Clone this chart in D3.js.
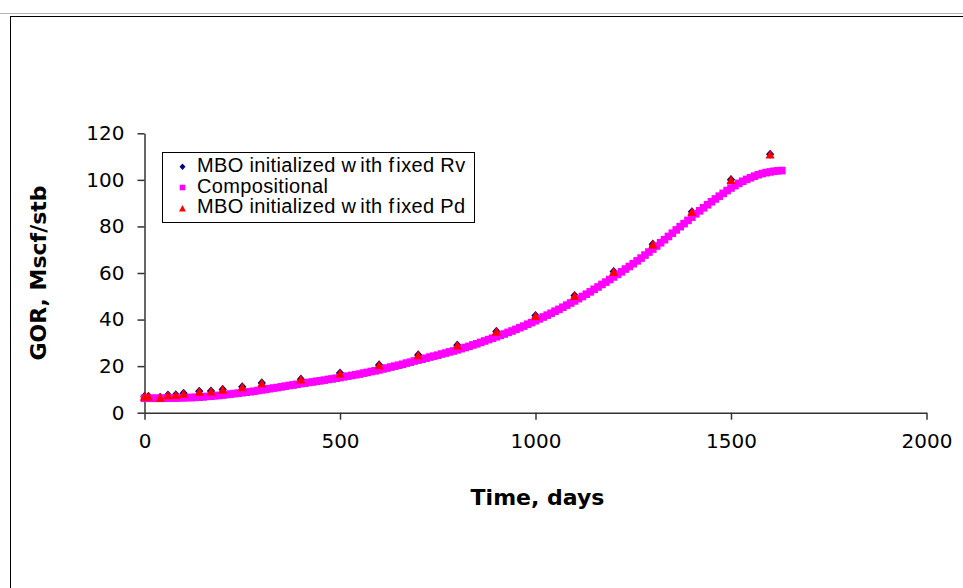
<!DOCTYPE html>
<html>
<head>
<meta charset="utf-8">
<script src="https://cdn.jsdelivr.net/npm/d3@7"></script>
<style>
  html, body { margin: 0; padding: 0; background: #fff; }
  svg { display: block; }
</style>
</head>
<body>
<svg id="chart" width="963" height="588"></svg>
<script>
// GOR history: two black-oil (MBO) runs against the compositional run
const seriesNames = [
  "MBO initialized with fixed Rv",
  "Compositional",
  "MBO initialized with fixed Pd"
];

const rvDays = [0, 10, 40, 60, 80, 100, 140, 170, 200, 250, 300, 400, 500, 600,
                700, 800, 900, 1000, 1100, 1200, 1300, 1400, 1500, 1600];
const rvGor  = [7.0, 7.0, 6.6, 7.6, 7.7, 8.3, 9.2, 9.3, 10.0, 11.1, 12.8, 14.4, 17.0, 20.5,
                24.8, 29.0, 34.9, 41.7, 50.3, 60.6, 72.4, 86.3, 100.1, 111.0];

const pdDays = [0, 10, 40, 60, 80, 100, 140, 170, 200, 250, 300, 400, 500, 600,
                700, 800, 900, 1000, 1100, 1200, 1300, 1400, 1500, 1600];
const pdGor  = [7.0, 7.0, 6.6, 7.6, 7.7, 8.3, 9.2, 9.3, 10.0, 11.1, 12.8, 14.4, 17.0, 20.5,
                24.8, 29.0, 34.9, 41.7, 50.3, 60.6, 72.4, 86.3, 100.1, 111.0];

const compDays = [
  0, 10, 20, 30, 40, 50, 60, 70, 80, 90,
  100, 110, 120, 130, 140, 150, 160, 170, 180, 190,
  200, 210, 220, 230, 240, 250, 260, 270, 280, 290,
  300, 310, 320, 330, 340, 350, 360, 370, 380, 390,
  400, 410, 420, 430, 440, 450, 460, 470, 480, 490,
  500, 510, 520, 530, 540, 550, 560, 570, 580, 590,
  600, 610, 620, 630, 640, 650, 660, 670, 680, 690,
  700, 710, 720, 730, 740, 750, 760, 770, 780, 790,
  800, 810, 820, 830, 840, 850, 860, 870, 880, 890,
  900, 910, 920, 930, 940, 950, 960, 970, 980, 990,
  1000, 1010, 1020, 1030, 1040, 1050, 1060, 1070, 1080, 1090,
  1100, 1110, 1120, 1130, 1140, 1150, 1160, 1170, 1180, 1190,
  1200, 1210, 1220, 1230, 1240, 1250, 1260, 1270, 1280, 1290,
  1300, 1310, 1320, 1330, 1340, 1350, 1360, 1370, 1380, 1390,
  1400, 1410, 1420, 1430, 1440, 1450, 1460, 1470, 1480, 1490,
  1500, 1510, 1520, 1530, 1540, 1550, 1560, 1570, 1580, 1590,
  1600, 1610, 1620, 1630
];
const compGor = [
  6.2, 6.2, 6.2, 6.2, 6.2, 6.2, 6.3, 6.3, 6.3, 6.4,
  6.4, 6.5, 6.5, 6.6, 6.7, 6.8, 7.0, 7.1, 7.3, 7.4,
  7.6, 7.8, 8.0, 8.2, 8.4, 8.6, 8.8, 9.0, 9.2, 9.5,
  9.8, 10.0, 10.3, 10.6, 10.8, 11.1, 11.4, 11.7, 11.9, 12.2,
  12.5, 12.7, 13.0, 13.2, 13.5, 13.7, 14.0, 14.3, 14.5, 14.8,
  15.1, 15.4, 15.7, 16.0, 16.3, 16.6, 17.0, 17.3, 17.7, 18.0,
  18.4, 18.8, 19.2, 19.6, 20.0, 20.4, 20.8, 21.3, 21.7, 22.2,
  22.6, 23.0, 23.4, 23.9, 24.3, 24.7, 25.2, 25.6, 26.1, 26.5,
  27.0, 27.5, 28.0, 28.5, 29.1, 29.6, 30.2, 30.8, 31.4, 32.0,
  32.6, 33.2, 33.8, 34.5, 35.1, 35.8, 36.5, 37.2, 38.0, 38.7,
  39.5, 40.3, 41.1, 41.9, 42.7, 43.6, 44.4, 45.3, 46.2, 47.1,
  48.0, 49.0, 49.9, 50.9, 51.9, 53.0, 54.0, 55.1, 56.1, 57.2,
  58.3, 59.4, 60.5, 61.7, 62.8, 64.0, 65.2, 66.4, 67.7, 69.0,
  70.3, 71.6, 73.0, 74.3, 75.7, 77.1, 78.5, 79.9, 81.2, 82.6,
  84.0, 85.4, 86.7, 88.0, 89.3, 90.6, 91.8, 93.0, 94.2, 95.4,
  96.5, 97.5, 98.5, 99.4, 100.2, 100.9, 101.6, 102.2, 102.7, 103.1,
  103.4, 103.7, 103.9, 104.0
];

const xTicks = [0, 500, 1000, 1500, 2000];
const yTicks = [0, 20, 40, 60, 80, 100, 120];

const xTitle = "Time, days";
const yTitle = "GOR, Mscf/stb";

// ---- layout ----
const plot = { left: 144.5, right: 926.5, top: 133.3, bottom: 412.7 };
const tickFont = "'DejaVu Sans', sans-serif";
const titleFont = "'DejaVu Sans', sans-serif";
const legendFont = "'Liberation Sans', Arial, sans-serif";
const axisColor = "#333";

const svg = d3.select("#chart");

// chart-area frame (open to the right and bottom edges of the window)
svg.append("line")
  .attr("x1", 0).attr("x2", 963).attr("y1", 13.5).attr("y2", 13.5)
  .attr("stroke", "#b4b4b4").attr("stroke-width", 1);
svg.append("rect")
  .attr("x", 10.5).attr("y", 16.5).attr("width", 1000).attr("height", 1000)
  .attr("fill", "none").attr("stroke", "#000").attr("stroke-width", 1);

const x = d3.scaleLinear().domain([0, 2000]).range([plot.left, plot.right]);
const y = d3.scaleLinear().domain([0, 120]).range([plot.bottom, plot.top]);

// ---- axes ----
const plain = d3.format("d");
const yAxis = svg.append("g")
  .attr("transform", `translate(${plot.left},0)`)
  .call(d3.axisLeft(y).tickValues(yTicks).tickFormat(plain)
    .tickSize(7).tickPadding(13).tickSizeOuter(0));
const xAxis = svg.append("g")
  .attr("transform", `translate(0,${plot.bottom})`)
  .call(d3.axisBottom(x).tickValues(xTicks).tickFormat(plain)
    .tickSize(7).tickPadding(14).tickSizeOuter(0));

[yAxis, xAxis].forEach(g => {
  g.select(".domain").attr("stroke", axisColor).attr("stroke-width", 1.5);
  g.selectAll(".tick line").attr("stroke", axisColor).attr("stroke-width", 1.5);
  g.selectAll(".tick text")
    .attr("fill", "#000")
    .style("font-family", tickFont)
    .style("font-size", "20px");
});

// axis titles
svg.append("text")
  .attr("x", (plot.left + plot.right) / 2 + 2)
  .attr("y", 505)
  .attr("text-anchor", "middle")
  .style("font-family", titleFont)
  .style("font-weight", "bold")
  .style("font-size", "22px")
  .text(xTitle);

svg.append("text")
  .attr("transform", `translate(46,${(plot.top + plot.bottom) / 2}) rotate(-90)`)
  .attr("text-anchor", "middle")
  .style("font-family", titleFont)
  .style("font-weight", "bold")
  .style("font-size", "22px")
  .text(yTitle);

// ---- marker shapes ----
const diamondPath = s => `M0,${-s}L${s * 0.9},0L0,${s}L${-s * 0.9},0Z`;
const trianglePath = s => `M0,${-s}L${s * 1.05},${s}L${-s * 1.05},${s}Z`;

const rvData = rvDays.map((d, i) => ({ t: d, v: rvGor[i] }));
const compData = compDays.map((d, i) => ({ t: d, v: compGor[i] }));
const pdData = pdDays.map((d, i) => ({ t: d, v: pdGor[i] }));

// series 1: diamonds
svg.append("g").selectAll("path").data(rvData).join("path")
  .attr("d", diamondPath(4.6))
  .attr("transform", d => `translate(${x(d.t)},${y(d.v)})`)
  .attr("fill", "#000080");

// series 2: dense squares forming the compositional curve
const sq = 7.6;
svg.append("g").selectAll("rect").data(compData).join("rect")
  .attr("x", d => x(d.t) - sq / 2)
  .attr("y", d => y(d.v) - sq / 2)
  .attr("width", sq).attr("height", sq)
  .attr("fill", "#ff00ff");

// series 3: triangles
svg.append("g").selectAll("path").data(pdData).join("path")
  .attr("d", trianglePath(4.35))
  .attr("transform", d => `translate(${x(d.t)},${y(d.v)})`)
  .attr("fill", "#ff0000");

// ---- legend ----
const legend = svg.append("g");
legend.append("rect")
  .attr("x", 162.5).attr("y", 152.5).attr("width", 312).attr("height", 70)
  .attr("fill", "#fff").attr("stroke", "#000").attr("stroke-width", 1);

const rowBase = [171.7, 192.5, 213.3];
const markerX = 182.5;
legend.append("path")
  .attr("d", diamondPath(3.3))
  .attr("transform", `translate(${markerX},${rowBase[0] - 5})`)
  .attr("fill", "#000080");
legend.append("rect")
  .attr("x", markerX - 2.8).attr("y", rowBase[1] - 5 - 2.8)
  .attr("width", 5.6).attr("height", 5.6)
  .attr("fill", "#ff00ff");
legend.append("path")
  .attr("d", trianglePath(3.3))
  .attr("transform", `translate(${markerX},${rowBase[2] - 5})`)
  .attr("fill", "#ff0000");

seriesNames.forEach((name, i) => {
  const t = legend.append("text")
    .attr("x", 197).attr("y", rowBase[i])
    .style("font-family", legendFont)
    .style("font-size", "20px")
    .style("letter-spacing", "0.35px")
    .attr("fill", "#000");
  // the legend font leaves a little air after "w" and "f"
  const m = name.match(/^(.*w)(ith f)(ixed.*)$/);
  if (m) {
    t.append("tspan").text(m[1]);
    t.append("tspan").attr("dx", 4).text(m[2]);
    t.append("tspan").attr("dx", 2).text(m[3]);
  } else {
    t.text(name);
  }
});
</script>
</body>
</html>
